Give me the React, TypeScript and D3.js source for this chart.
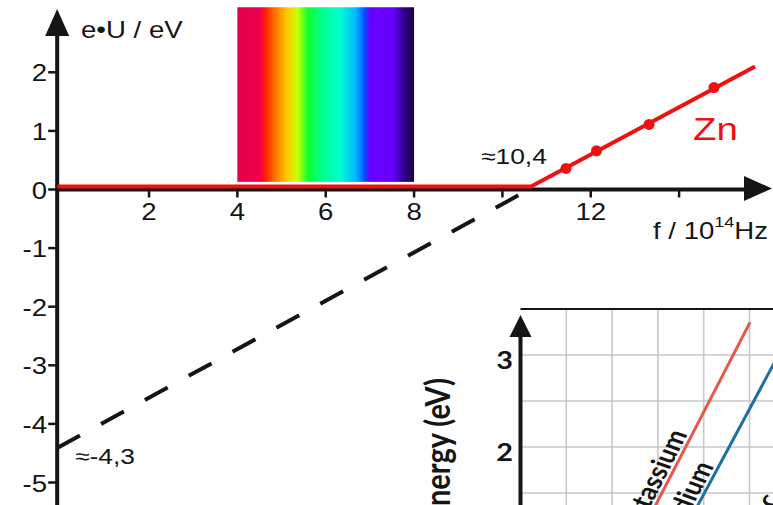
import React from 'react';
import * as d3 from 'd3';

// main chart: e*U over f for zinc (f in 10^14 Hz, energy in eV)
const xTicks = [2, 4, 6, 8, 10, 12, 14];
const xTickLabels = ['2', '4', '6', '8', '', '12', ''];
const yTicks = [2, 1, 0, -1, -2, -3, -4, -5];
const axisOrigin = -0.08;
const znLine: [number, number][] = [[-0.08, 0.05], [10.65, 0.05], [15.72, 2.1]];
const znPoints: [number, number][] = [[11.44, 0.36], [12.13, 0.66], [13.32, 1.11], [14.79, 1.74]];
const extrapolation: [number, number][] = [[-0.08, -4.41], [10.36, -0.1]];
const spectrumF = [4, 8];
const spectrumE = [0.13, 3.11];
const thresholdLabel = '≈10,4';
const interceptLabel = '≈-4,3';

// inset: kinetic energy of the electrons for three metals
const insetTicks = [3, 2];
const insetGridU = [1, 2, 3, 4, 5, 6];
const insetGridE = [3, 2.5, 2, 1.5];
const insetTop = 3.5;
const metals = ['Potassium', 'Sodium', 'Zinc'];
const potassium: [number, number][] = [[2.776, 1.2], [5.011, 3.355]];
const sodium: [number, number][] = [[3.693, 1.2], [6.015, 3.355]];
const zinc: [number, number][] = [[5.5, 1.2], [7.82, 3.355]];
const labelEnergy = [2.12, 1.77, 1.42];

const metalColors = ['#e8584a', '#1f6fa5', '#3a9a4a'];
const spectrumStops: [number, string][] = [
  [0, '#e0004e'], [0.13, '#f0004a'], [0.16, '#ff2200'], [0.22, '#ff7a00'],
  [0.28, '#ffc800'], [0.34, '#c8ff00'], [0.4, '#10ff30'], [0.48, '#00ff90'],
  [0.58, '#00ffd0'], [0.67, '#00b8ff'], [0.72, '#0050ff'], [0.75, '#6a00ff'],
  [0.88, '#6400ff'], [0.94, '#300090'], [1, '#1c0040'],
];

const W = 773;
const H = 505;
const SX = 1.2;
const RED = '#f01010';
const INK = '#151515';
const SANS = 'Liberation Sans, Arial, sans-serif';
const INSET_FONT = 'Lato, Open Sans, sans-serif';

const x = d3.scaleLinear().domain([0, 16]).range([60.7, 60.7 + 16 * 44.17]);
const y = d3.scaleLinear().domain([0, -5]).range([189.5, 189.5 + 5 * 58.6]);
const xi = d3.scaleLinear().domain([0, 5]).range([520.5, 520.5 + 5 * 45.8]);
const yi = d3.scaleLinear().domain([3.5, 1.5]).range([309, 493]);

const Txt = ({ x, y, size, anchor = 'start', fill = INK, children, family = SANS, weight = 'normal', rotate = 0 }: any) => (
  <text
    transform={`translate(${x},${y}) scale(${SX},1) rotate(${rotate})`}
    textAnchor={anchor}
    fontSize={size}
    fontFamily={family}
    fontWeight={weight}
    fill={fill}
  >
    {children}
  </text>
);

export default function App() {
  const line = d3.line<[number, number]>().x(d => x(d[0])).y(d => y(d[1]));
  const insetLine = d3.line<[number, number]>().x(d => xi(d[0])).y(d => yi(d[1]));
  const ox = x(axisOrigin);
  const oy = y(0);

  const insetSeries = [potassium, sodium, zinc];

  return (
    <svg width={W} height={H} style={{ position: 'absolute', left: 0, top: 0, background: '#fff' }}>
      <defs>
        <linearGradient id="spectrum" x1="0" x2="1" y1="0" y2="0">
          {spectrumStops.map(([o, c]) => <stop key={o} offset={o} stopColor={c} />)}
        </linearGradient>
        <clipPath id="insetClip">
          <rect x={xi(0) - 2} y={yi(insetTop) - 2} width={W} height={H} />
        </clipPath>
      </defs>

      {/* spectrum of visible light */}
      <rect
        x={x(spectrumF[0])}
        y={y(spectrumE[1])}
        width={x(spectrumF[1]) - x(spectrumF[0])}
        height={y(spectrumE[0]) - y(spectrumE[1])}
        fill="url(#spectrum)"
      />

      {/* dashed extrapolation */}
      <path d={line(extrapolation) || ''} stroke={INK} strokeWidth={4} strokeDasharray="26,24" fill="none" />

      {/* axes */}
      <line x1={ox} x2={ox} y1={34} y2={H + 5} stroke={INK} strokeWidth={4} />
      <path d={`M${ox},9 L${ox - 12},36 L${ox + 12},36 Z`} fill={INK} />
      <line x1={ox} x2={746} y1={oy} y2={oy} stroke={INK} strokeWidth={4} />
      <path d={`M772,${oy - 1} L744,${oy - 13.5} L744,${oy + 11.5} Z`} fill={INK} />

      {xTicks.map((t, i) => (
        <g key={t}>
          <line x1={x(t)} x2={x(t)} y1={oy} y2={oy + 8} stroke={INK} strokeWidth={2.5} />
          {xTickLabels[i] && <Txt x={x(t)} y={220} size={23} anchor="middle">{xTickLabels[i]}</Txt>}
        </g>
      ))}
      {yTicks.map(t => (
        <g key={t}>
          <line x1={ox - 9} x2={ox} y1={y(t)} y2={y(t)} stroke={INK} strokeWidth={2.5} />
          <Txt x={47} y={y(t) + 9} size={23} anchor="end">{String(t)}</Txt>
        </g>
      ))}

      <Txt x={81} y={38} size={23}>e•U / eV</Txt>
      <text transform={`translate(653,239) scale(${SX},1)`} fontSize={23} fontFamily={SANS} fill={INK}>
        f / 10<tspan fontSize={15} dy={-12}>14</tspan><tspan dy={12}>Hz</tspan>
      </text>
      <Txt x={481} y={164} size={22}>{thresholdLabel}</Txt>
      <Txt x={75} y={464} size={22}>{interceptLabel}</Txt>

      {/* zinc */}
      <path d={line(znLine) || ''} stroke={RED} strokeWidth={4} fill="none" strokeLinejoin="round" />
      {znPoints.map(p => <circle key={p[0]} cx={x(p[0])} cy={y(p[1])} r={5.5} fill={RED} />)}
      <Txt x={693} y={140} size={32} fill={RED}>Zn</Txt>

      {/* inset */}
      <g>
        <rect x={xi(0)} y={yi(insetTop)} width={W} height={H} fill="#fff" />
        <g clipPath="url(#insetClip)">
          {insetGridU.map(u => (
            <line key={u} x1={xi(u)} x2={xi(u)} y1={yi(insetTop)} y2={H} stroke="#c8c8c8" strokeWidth={1.6} />
          ))}
          {insetGridE.map(e => (
            <line key={e} x1={xi(0)} x2={W} y1={yi(e)} y2={yi(e)} stroke="#c8c8c8" strokeWidth={1.6} />
          ))}
          {insetSeries.map((s, i) => {
            const [p0, p1] = s;
            const dx = xi(p1[0]) - xi(p0[0]);
            const dy = yi(p1[1]) - yi(p0[1]);
            const len = Math.hypot(dx, dy);
            const t = (labelEnergy[i] - p0[1]) / (p1[1] - p0[1]);
            const px = xi(p0[0]) + dx * t + (dy / len) * 4;
            const py = yi(p0[1]) + dy * t - (dx / len) * 4;
            const ang = (Math.atan2(dy, dx / SX) * 180) / Math.PI;
            return (
              <g key={metals[i]}>
                <path d={insetLine(s) || ''} stroke={metalColors[i]} strokeWidth={3} fill="none" />
                <Txt x={px} y={py} size={24} anchor="end" family={INSET_FONT} weight="bold" rotate={ang}>
                  {metals[i]}
                </Txt>
              </g>
            );
          })}
        </g>
        <line x1={xi(0)} x2={W} y1={yi(insetTop)} y2={yi(insetTop)} stroke={INK} strokeWidth={2} />
        <line x1={xi(0)} x2={xi(0)} y1={334} y2={H + 5} stroke={INK} strokeWidth={4} />
        <path d={`M${xi(0)},315 L${xi(0) - 11},337 L${xi(0) + 11},337 Z`} fill={INK} />
        {insetTicks.map(t => (
          <Txt key={t} x={513} y={yi(t) + 14} size={24} anchor="end" family={INSET_FONT} weight="bold">{String(t)}</Txt>
        ))}
        <Txt x={450} y={378} size={29} anchor="end" family={INSET_FONT} weight="bold" rotate={-90}>Energy (eV)</Txt>
      </g>
    </svg>
  );
}
